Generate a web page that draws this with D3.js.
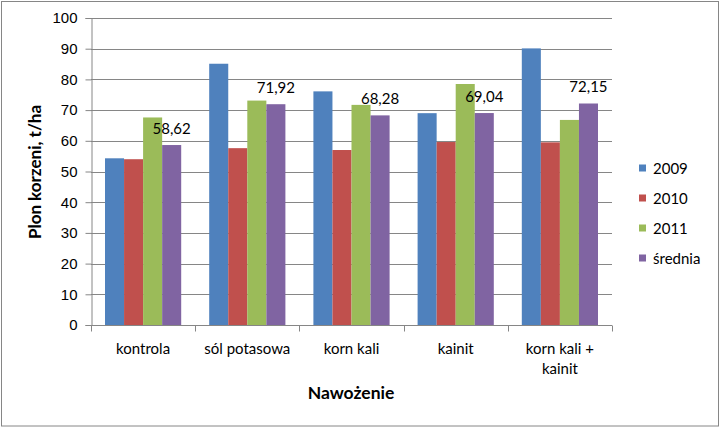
<!DOCTYPE html>
<html>
<head>
<meta charset="utf-8">
<script src="https://cdn.jsdelivr.net/npm/d3@7"></script>
<style>
  body { margin: 0; background: #fff; }
  svg { display: block; font-family: Lato, "Open Sans", sans-serif; }
</style>
</head>
<body>
<div id="chart"></div>
<script>
// data
var categories = [["kontrola"], ["sól potasowa"], ["korn kali"], ["kainit"], ["korn kali +", "kainit"]];
var seriesNames = ["2009", "2010", "2011", "średnia"];
var v2009 = [54.3, 85.1, 76.1, 69.0, 90.1];
var v2010 = [54.0, 57.6, 57.0, 59.6, 59.5];
var v2011 = [67.6, 73.1, 71.7, 78.5, 66.8];
var vMean = [58.62, 71.92, 68.28, 69.04, 72.15];
var meanLabels = ["58,62", "71,92", "68,28", "69,04", "72,15"];
var yTicks = [0, 10, 20, 30, 40, 50, 60, 70, 80, 90, 100];

var colors = ["#4F81BD", "#C0504D", "#9BBB59", "#8064A2"];
var series = [v2009, v2010, v2011, vMean];

var W = 720, H = 428;
var margin = {top: 18, right: 108, bottom: 103, left: 91};
var width = W - margin.left - margin.right,
    height = H - margin.top - margin.bottom;

var svg = d3.select("#chart").append("svg")
    .attr("width", W)
    .attr("height", H);

// outer border
svg.append("rect")
    .attr("x", 1.5).attr("y", 1.5)
    .attr("width", W - 3).attr("height", H - 3.5)
    .attr("fill", "none")
    .attr("stroke", "#868686");

var g = svg.append("g")
    .attr("transform", "translate(" + margin.left + "," + margin.top + ")");

var x0 = d3.scaleBand()
    .domain(d3.range(categories.length))
    .range([0, width])
    .paddingInner(0)
    .paddingOuter(0);

var x1 = d3.scaleBand()
    .domain(d3.range(series.length))
    .range([14, x0.bandwidth() - 14]);

var y = d3.scaleLinear()
    .domain([0, 100])
    .range([height, 0]);

// gridlines
g.selectAll(".grid")
    .data(yTicks.slice(1))
    .enter()
    .append("line")
    .attr("x1", 0)
    .attr("x2", width)
    .attr("y1", function(d) { return Math.round(y(d)) + 0.5; })
    .attr("y2", function(d) { return Math.round(y(d)) + 0.5; })
    .attr("stroke", "#868686");

// bars
var groups = g.selectAll(".grp")
    .data(categories)
    .enter()
    .append("g")
    .attr("transform", function(d, i) { return "translate(" + x0(i) + ",0)"; });

groups.selectAll("rect")
    .data(function(d, i) { return series.map(function(s, k) { return {k: k, v: s[i]}; }); })
    .enter()
    .append("rect")
    .attr("x", function(d) { return x1(d.k); })
    .attr("y", function(d) { return y(d.v); })
    .attr("width", x1.bandwidth())
    .attr("height", function(d) { return y(0) - y(d.v); })
    .attr("fill", function(d) { return colors[d.k]; });

// data labels on the mean
g.selectAll(".lbl")
    .data(vMean)
    .enter()
    .append("text")
    .attr("x", function(d, i) { return x0(i) + x1(3) + x1.bandwidth() / 2; })
    .attr("y", function(d) { return y(d) - 11; })
    .attr("text-anchor", "middle")
    .style("font-size", "15px")
    .attr("fill", "#000")
    .text(function(d, i) { return meanLabels[i]; });

// Y axis
var yAxis = g.append("g")
    .attr("transform", "translate(0.5,0)")
    .call(d3.axisLeft(y).tickValues(yTicks).tickSize(6).tickPadding(8));
yAxis.select(".domain").attr("stroke", "#868686");
yAxis.selectAll(".tick line").attr("stroke", "#868686");
yAxis.selectAll("text").style("font-size", "15px").attr("fill", "#000");

// X axis
var xAxisG = g.append("g")
    .attr("transform", "translate(0," + (Math.round(y(0)) + 0.5) + ")");
xAxisG.append("line")
    .attr("x1", 0).attr("x2", width)
    .attr("stroke", "#868686");
xAxisG.selectAll(".xt")
    .data(d3.range(categories.length + 1))
    .enter()
    .append("line")
    .attr("x1", function(i) { return Math.round(i * x0.step()) + 0.5; })
    .attr("x2", function(i) { return Math.round(i * x0.step()) + 0.5; })
    .attr("y1", 0).attr("y2", 6)
    .attr("stroke", "#868686");
var xl = xAxisG.selectAll(".xl")
    .data(categories)
    .enter()
    .append("text")
    .attr("text-anchor", "middle")
    .style("font-size", "15px")
    .attr("fill", "#000");
xl.selectAll("tspan")
    .data(function(d, i) { return d.map(function(t) { return {t: t, i: i}; }); })
    .enter()
    .append("tspan")
    .attr("x", function(d) { return x0(d.i) + x0.bandwidth() / 2; })
    .attr("y", function(d, j) { return 28 + j * 20; })
    .text(function(d) { return d.t; });

// axis titles
svg.append("text")
    .attr("transform", "translate(41,172) rotate(-90)")
    .attr("text-anchor", "middle")
    .style("font-size", "17px")
    .style("font-weight", "bold")
    .text("Plon korzeni, t/ha");

svg.append("text")
    .attr("x", 351)
    .attr("y", 399)
    .attr("text-anchor", "middle")
    .style("font-size", "17.5px")
    .style("font-weight", "bold")
    .text("Nawożenie");

// legend
var legend = svg.selectAll(".leg")
    .data(seriesNames)
    .enter()
    .append("g")
    .attr("transform", function(d, i) { return "translate(639," + (168 + i * 30) + ")"; });
legend.append("rect")
    .attr("x", 0).attr("y", -3.5)
    .attr("width", 7).attr("height", 7)
    .attr("fill", function(d, i) { return colors[i]; });
legend.append("text")
    .attr("x", 14)
    .attr("y", 5.5)
    .style("font-size", "15px")
    .text(function(d) { return d; });
</script>
</body>
</html>
